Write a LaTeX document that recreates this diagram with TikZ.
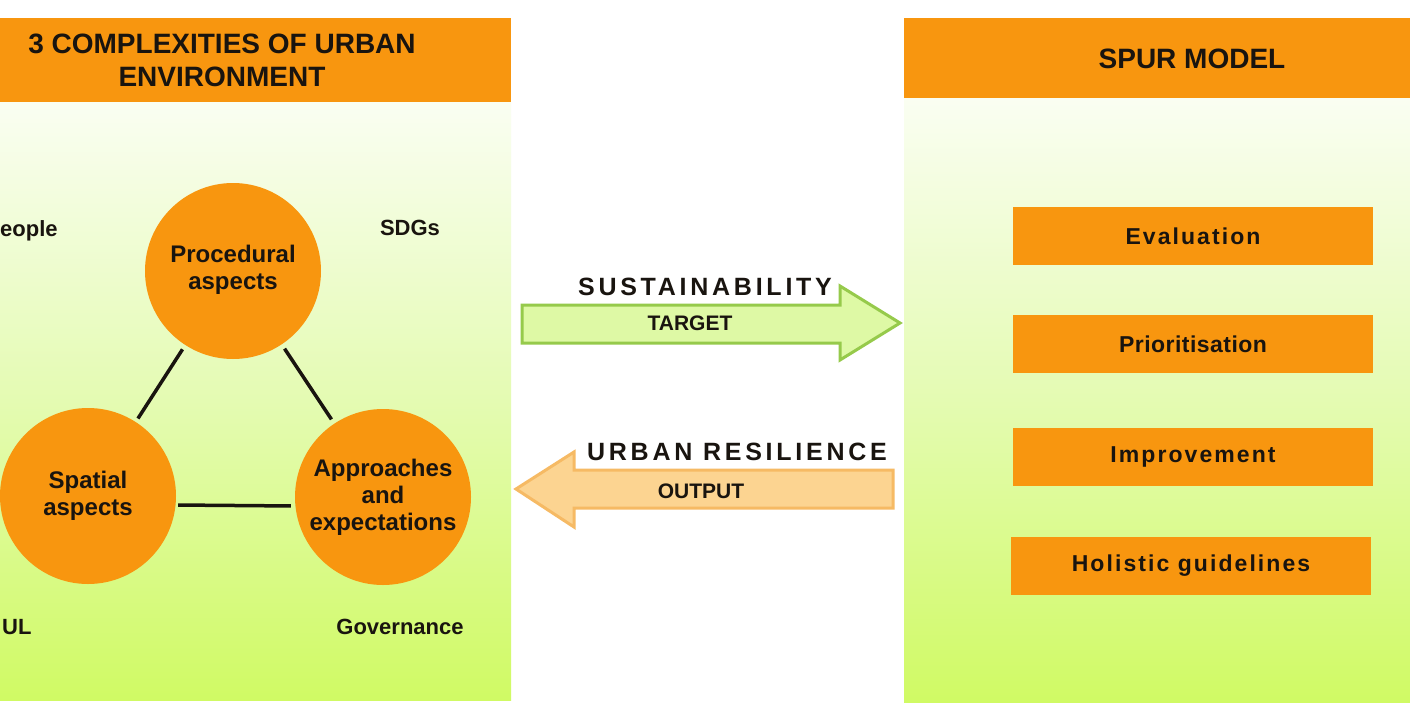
\documentclass[tikz,border=0pt]{standalone}
\usepackage{fontspec}
\setmainfont{Liberation Sans}
\newfontfamily\wideA[LetterSpace=15]{Liberation Sans}
\newfontfamily\wideB[LetterSpace=9]{Liberation Sans}
\newfontfamily\wideC[LetterSpace=2]{Liberation Sans}
\definecolor{orng}{RGB}{248,150,15}
\definecolor{ink}{RGB}{25,20,15}
\definecolor{bgtop}{RGB}{250,254,242}
\definecolor{bgmid}{RGB}{228,251,178}
\definecolor{bgbot}{RGB}{208,250,100}
\definecolor{gfill}{RGB}{222,249,165}
\definecolor{gline}{RGB}{150,202,75}
\definecolor{ofill}{RGB}{252,212,145}
\definecolor{oline}{RGB}{246,186,100}
\begin{document}
\begin{tikzpicture}[x=1pt,y=-1pt,
  header/.style={fill=orng,draw=none},
  body/.style={top color=bgtop,bottom color=bgbot,middle color=bgmid,draw=none},
  bubble/.style={circle,fill=orng,minimum size=176pt,inner sep=0pt,align=center,text=ink,font=\fontsize{24}{27}\selectfont\bfseries},
  stepbox/.style={fill=orng,minimum width=360pt,minimum height=58pt,inner sep=0pt,text=ink,font=\fontsize{23}{27}\selectfont\bfseries},
  tag/.style={text=ink,font=\fontsize{22}{26}\selectfont\bfseries,inner sep=0pt},
  link/.style={line width=3.5pt,draw=ink},
  htext/.style={text=ink,font=\fontsize{28}{33}\selectfont\bfseries,align=center,inner sep=0pt}
]
\useasboundingbox (0,0) rectangle (1410,720);
\fill[white] (0,0) rectangle (1410,720);

% left panel
\path[body] (0,102) rectangle (511,700);
\path[header] (0,18) rectangle (511,102);
\node[htext,anchor=base] (lh) at (222,86) {3 COMPLEXITIES OF URBAN\\ENVIRONMENT};

% right panel
\path[body] (904,98) rectangle (1410,702);
\path[header] (904,18) rectangle (1410,98);
\node[htext,anchor=base] (rh) at (1192,68) {SPUR MODEL};

% circles
\node[bubble] (proc) at (233,271) {Procedural\\aspects\rule[-8pt]{0pt}{0pt}};
\node[bubble] (spat) at (88,496) {Spatial\\aspects};
\node[bubble] (appr) at (383,497) {Approaches\\and\\expectations\rule[-5pt]{0pt}{0pt}};

\draw[link,shorten <=5pt,shorten >=4pt] (proc) -- (spat);
\draw[link,shorten <=5pt,shorten >=5pt] (proc) -- (appr);
\draw[link,shorten <=2pt,shorten >=4pt] ([yshift=-9pt]spat.east) -- ([yshift=-9pt]appr.west);

% corner labels
\node[tag,anchor=west] (peo) at (0,231) {eople};
\node[tag] (sdg) at (410,228) {SDGs};
\node[tag,anchor=west] (ul) at (2,627) {UL};
\node[tag] (gov) at (400,627) {Governance};

% block arrows
\draw[fill=gfill,draw=gline,line width=3pt,line join=miter]
  (522,305) -- (840,305) -- (840,286) -- (900,323) -- (840,360) -- (840,343) -- (522,343) -- cycle;
\draw[fill=ofill,draw=oline,line width=3pt,line join=miter]
  (893,470) -- (574,470) -- (574,452) -- (516,489) -- (574,527) -- (574,508) -- (893,508) -- cycle;

\node[text=ink,font=\wideA\fontsize{25}{28}\selectfont\bfseries,anchor=base,inner sep=0pt] (sus) at (705,295) {SUSTAINABILITY};
\node[tag,font=\fontsize{21}{24}\selectfont\bfseries,anchor=base] (tgt) at (690,330) {TARGET};
\node[text=ink,font=\wideA\fontsize{25}{28}\selectfont\bfseries,anchor=base,inner sep=0pt] (res) at (737,460) {URBAN RESILIENCE};
\node[tag,font=\fontsize{21}{24}\selectfont\bfseries,anchor=base] (out) at (701,498) {OUTPUT};

% SPUR steps
\node[stepbox,font=\wideB\fontsize{23}{27}\selectfont\bfseries] (ev) at (1193,236) {Evaluation};
\node[stepbox,font=\wideC\fontsize{23}{27}\selectfont\bfseries] (pr) at (1193,344) {Prioritisation};
\node[stepbox,font=\wideB\fontsize{23}{27}\selectfont\bfseries] (im) at (1193,457) {Improvement};
\node[stepbox,font=\wideB\fontsize{23}{27}\selectfont\bfseries] (ho) at (1191,566) {Holistic guidelines};
\end{tikzpicture}
\end{document}
